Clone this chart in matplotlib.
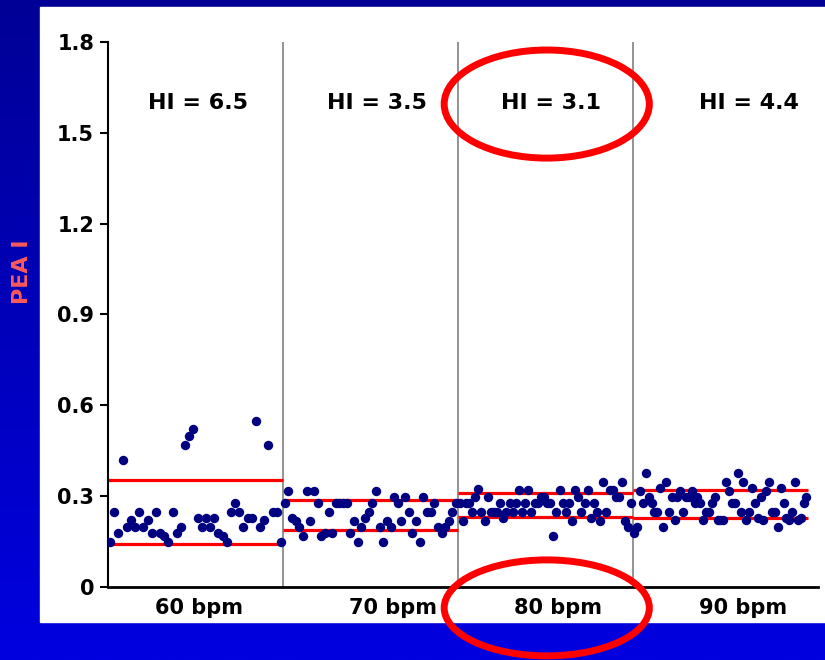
import numpy as np
import matplotlib.pyplot as plt
from matplotlib.patches import Ellipse, Rectangle

rates = ['60 bpm', '70 bpm', '80 bpm', '90 bpm']
hi_values = [6.5, 3.5, 3.1, 4.4]

# PEAI per beat, one list per pacing rate
peai_60 = [0.148, 0.249, 0.178, 0.419, 0.199, 0.221, 0.199, 0.249, 0.199, 0.221,
           0.178, 0.249, 0.178, 0.168, 0.148, 0.249, 0.178, 0.199, 0.469, 0.499,
           0.521, 0.229, 0.199, 0.229, 0.199, 0.229, 0.178, 0.168, 0.148, 0.249,
           0.278, 0.249, 0.199, 0.229, 0.229, 0.549, 0.199, 0.221, 0.469, 0.249,
           0.249, 0.148]
peai_70 = [0.278, 0.318, 0.229, 0.219, 0.199, 0.169, 0.318, 0.219, 0.318, 0.278,
           0.167, 0.179, 0.249, 0.179, 0.278, 0.278, 0.278, 0.278, 0.179, 0.219,
           0.148, 0.199, 0.229, 0.249, 0.278, 0.318, 0.199, 0.148, 0.219, 0.199,
           0.298, 0.278, 0.219, 0.298, 0.249, 0.179, 0.219, 0.148, 0.298, 0.249,
           0.249, 0.278, 0.199, 0.179, 0.199, 0.219, 0.249, 0.278]
peai_80 = [0.278, 0.219, 0.278, 0.278, 0.249, 0.298, 0.323, 0.249, 0.219, 0.298,
           0.249, 0.249, 0.249, 0.278, 0.227, 0.249, 0.278, 0.249, 0.278, 0.320,
           0.249, 0.278, 0.320, 0.249, 0.278, 0.278, 0.298, 0.298, 0.278, 0.278,
           0.168, 0.249, 0.320, 0.278, 0.249, 0.278, 0.219, 0.320, 0.298, 0.249,
           0.278, 0.320, 0.227, 0.278, 0.249, 0.219, 0.348, 0.249, 0.320, 0.320,
           0.298, 0.298, 0.348, 0.219, 0.199, 0.278]
peai_90 = [0.177, 0.199, 0.318, 0.278, 0.377, 0.298, 0.278, 0.249, 0.249, 0.328,
           0.199, 0.348, 0.249, 0.298, 0.221, 0.298, 0.318, 0.249, 0.298, 0.298,
           0.318, 0.278, 0.298, 0.278, 0.221, 0.249, 0.249, 0.278, 0.298, 0.221,
           0.221, 0.221, 0.348, 0.318, 0.278, 0.278, 0.377, 0.249, 0.348, 0.221,
           0.249, 0.328, 0.278, 0.229, 0.298, 0.221, 0.318, 0.348, 0.249, 0.249,
           0.199, 0.328, 0.278, 0.229, 0.221, 0.249, 0.348, 0.221, 0.229, 0.278,
           0.298]
segments = [peai_60, peai_70, peai_80, peai_90]

upper_band = [0.353, 0.287, 0.309, 0.320]
lower_band = [0.141, 0.187, 0.232, 0.227]

seg_len = 40  # seconds recorded at each rate
hi_x = [20.6, 61.5, 101.3, 146.5]

fig = plt.figure(figsize=(8.25, 6.6), dpi=100)

# blue slide background with white panel
bg = fig.add_axes([0, 0, 1, 1])
grad = np.linspace(0, 1, 256).reshape(-1, 1)
bg.imshow(grad, aspect='auto', extent=[0, 1, 0, 1], origin='upper',
          cmap=plt.matplotlib.colors.LinearSegmentedColormap.from_list(
              'slide', ['#000096', '#0000e0']))
bg.add_patch(Rectangle((0.0485, 0.0576), 0.96, 0.9318, color='white'))
bg.set_xlim(0, 1)
bg.set_ylim(0, 1)
bg.axis('off')

ax = fig.add_axes([0.1309, 0.1106, 0.8606, 0.8258])
ax.set_facecolor('none')

for k, vals in enumerate(segments):
    n = len(vals)
    start = k * seg_len
    x = start + (np.arange(n) + 0.5) * seg_len / n
    ax.scatter(x, vals, s=46, color='#000080', zorder=3, linewidths=0)
    ax.hlines([upper_band[k], lower_band[k]], start, start + seg_len,
              colors='#ff0000', linewidth=2.3, zorder=2)
    if k > 0:
        ax.axvline(start, color='#808080', linewidth=1.2, zorder=1)
    ax.text(hi_x[k], 1.598, f'HI = {hi_values[k]}',
            ha='center', va='center', fontsize=16, fontweight='bold')

ax.set_xlim(0, 162.3)
ax.set_ylim(0, 1.8)
ax.set_yticks([0, 0.3, 0.6, 0.9, 1.2, 1.5, 1.8])
ax.set_yticklabels(['0', '0.3', '0.6', '0.9', '1.2', '1.5', '1.8'],
                   fontsize=15, fontweight='bold')
ax.set_xticks([20.8, 65.1, 102.9, 145.1])
ax.set_xticklabels(rates, fontsize=15, fontweight='bold')
ax.tick_params(axis='x', length=0, pad=8)
ax.tick_params(axis='y', length=6, width=1.5, pad=4)
for side in ['top', 'right']:
    ax.spines[side].set_visible(False)
ax.spines['left'].set_linewidth(1.5)
ax.spines['bottom'].set_linewidth(2)

# highlight ellipses
ax.add_patch(Ellipse((100.3, 1.595), 46.9, 0.357, fill=False, edgecolor='#ff0000',
                     linewidth=5, clip_on=False, zorder=5))
ax.add_patch(Ellipse((100.3, -0.069), 46.9, 0.317, fill=False, edgecolor='#ff0000',
                     linewidth=5, clip_on=False, zorder=5))

fig.text(0.027, 0.588, 'PEA I', rotation=90, color='#ff5a5a', fontsize=16,
         fontweight='bold', ha='center', va='center')

fig.savefig('out.png', dpi=100)
